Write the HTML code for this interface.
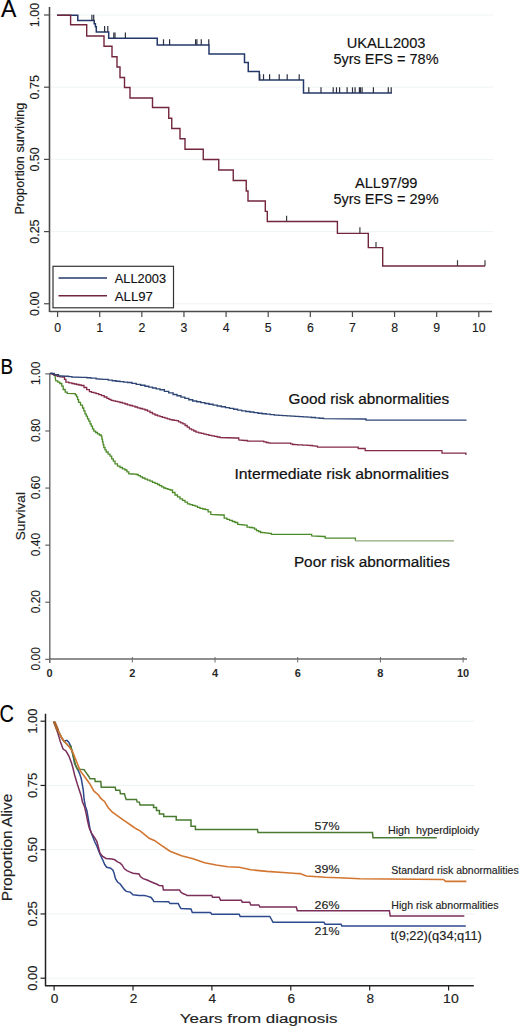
<!DOCTYPE html>
<html><head><meta charset="utf-8"><style>
html,body{margin:0;padding:0;background:#fff;}
body{width:520px;height:1027px;overflow:hidden;}
svg{display:block;font-family:"Liberation Sans", sans-serif;}
</style></head><body>
<svg width="520" height="1027" viewBox="0 0 520 1027">
<rect width="520" height="1027" fill="#fff"/>
<line x1="50.50" y1="15.00" x2="493.00" y2="15.00" stroke="#eef5f3" stroke-width="1"/>
<line x1="50.50" y1="87.20" x2="493.00" y2="87.20" stroke="#eef5f3" stroke-width="1"/>
<line x1="50.50" y1="159.40" x2="493.00" y2="159.40" stroke="#eef5f3" stroke-width="1"/>
<line x1="50.50" y1="231.60" x2="493.00" y2="231.60" stroke="#eef5f3" stroke-width="1"/>
<line x1="50.50" y1="303.75" x2="493.00" y2="303.75" stroke="#eef5f3" stroke-width="1"/>
<line x1="49.50" y1="7.00" x2="49.50" y2="312.00" stroke="#4a4a4a" stroke-width="1.6"/>
<line x1="49.50" y1="311.50" x2="492.00" y2="311.50" stroke="#4a4a4a" stroke-width="1.6"/>
<line x1="44.00" y1="15.00" x2="49.50" y2="15.00" stroke="#4a4a4a" stroke-width="1.2"/>
<line x1="44.00" y1="87.20" x2="49.50" y2="87.20" stroke="#4a4a4a" stroke-width="1.2"/>
<line x1="44.00" y1="159.40" x2="49.50" y2="159.40" stroke="#4a4a4a" stroke-width="1.2"/>
<line x1="44.00" y1="231.60" x2="49.50" y2="231.60" stroke="#4a4a4a" stroke-width="1.2"/>
<line x1="44.00" y1="303.75" x2="49.50" y2="303.75" stroke="#4a4a4a" stroke-width="1.2"/>
<line x1="57.60" y1="311.50" x2="57.60" y2="317.00" stroke="#4a4a4a" stroke-width="1.2"/>
<text x="57.60" y="331.80" font-size="12.3" fill="#1a1a1a" text-anchor="middle" font-weight="normal"  stroke="#1a1a1a" stroke-width="0.15">0</text>
<line x1="99.72" y1="311.50" x2="99.72" y2="317.00" stroke="#4a4a4a" stroke-width="1.2"/>
<text x="99.72" y="331.80" font-size="12.3" fill="#1a1a1a" text-anchor="middle" font-weight="normal"  stroke="#1a1a1a" stroke-width="0.15">1</text>
<line x1="141.84" y1="311.50" x2="141.84" y2="317.00" stroke="#4a4a4a" stroke-width="1.2"/>
<text x="141.84" y="331.80" font-size="12.3" fill="#1a1a1a" text-anchor="middle" font-weight="normal"  stroke="#1a1a1a" stroke-width="0.15">2</text>
<line x1="183.96" y1="311.50" x2="183.96" y2="317.00" stroke="#4a4a4a" stroke-width="1.2"/>
<text x="183.96" y="331.80" font-size="12.3" fill="#1a1a1a" text-anchor="middle" font-weight="normal"  stroke="#1a1a1a" stroke-width="0.15">3</text>
<line x1="226.08" y1="311.50" x2="226.08" y2="317.00" stroke="#4a4a4a" stroke-width="1.2"/>
<text x="226.08" y="331.80" font-size="12.3" fill="#1a1a1a" text-anchor="middle" font-weight="normal"  stroke="#1a1a1a" stroke-width="0.15">4</text>
<line x1="268.20" y1="311.50" x2="268.20" y2="317.00" stroke="#4a4a4a" stroke-width="1.2"/>
<text x="268.20" y="331.80" font-size="12.3" fill="#1a1a1a" text-anchor="middle" font-weight="normal"  stroke="#1a1a1a" stroke-width="0.15">5</text>
<line x1="310.32" y1="311.50" x2="310.32" y2="317.00" stroke="#4a4a4a" stroke-width="1.2"/>
<text x="310.32" y="331.80" font-size="12.3" fill="#1a1a1a" text-anchor="middle" font-weight="normal"  stroke="#1a1a1a" stroke-width="0.15">6</text>
<line x1="352.44" y1="311.50" x2="352.44" y2="317.00" stroke="#4a4a4a" stroke-width="1.2"/>
<text x="352.44" y="331.80" font-size="12.3" fill="#1a1a1a" text-anchor="middle" font-weight="normal"  stroke="#1a1a1a" stroke-width="0.15">7</text>
<line x1="394.56" y1="311.50" x2="394.56" y2="317.00" stroke="#4a4a4a" stroke-width="1.2"/>
<text x="394.56" y="331.80" font-size="12.3" fill="#1a1a1a" text-anchor="middle" font-weight="normal"  stroke="#1a1a1a" stroke-width="0.15">8</text>
<line x1="436.68" y1="311.50" x2="436.68" y2="317.00" stroke="#4a4a4a" stroke-width="1.2"/>
<text x="436.68" y="331.80" font-size="12.3" fill="#1a1a1a" text-anchor="middle" font-weight="normal"  stroke="#1a1a1a" stroke-width="0.15">9</text>
<line x1="478.80" y1="311.50" x2="478.80" y2="317.00" stroke="#4a4a4a" stroke-width="1.2"/>
<text x="478.80" y="331.80" font-size="12.3" fill="#1a1a1a" text-anchor="middle" font-weight="normal"  stroke="#1a1a1a" stroke-width="0.15">10</text>
<text x="38.70" y="15.00" font-size="12.5" fill="#1a1a1a" text-anchor="middle" font-weight="normal" transform="rotate(-90 38.70 15.00)"  stroke="#1a1a1a" stroke-width="0.15">1.00</text>
<text x="38.70" y="87.20" font-size="12.5" fill="#1a1a1a" text-anchor="middle" font-weight="normal" transform="rotate(-90 38.70 87.20)"  stroke="#1a1a1a" stroke-width="0.15">0.75</text>
<text x="38.70" y="159.40" font-size="12.5" fill="#1a1a1a" text-anchor="middle" font-weight="normal" transform="rotate(-90 38.70 159.40)"  stroke="#1a1a1a" stroke-width="0.15">0.50</text>
<text x="38.70" y="231.60" font-size="12.5" fill="#1a1a1a" text-anchor="middle" font-weight="normal" transform="rotate(-90 38.70 231.60)"  stroke="#1a1a1a" stroke-width="0.15">0.25</text>
<text x="38.70" y="303.75" font-size="12.5" fill="#1a1a1a" text-anchor="middle" font-weight="normal" transform="rotate(-90 38.70 303.75)"  stroke="#1a1a1a" stroke-width="0.15">0.00</text>
<text x="24.00" y="158.60" font-size="12.5" fill="#1a1a1a" text-anchor="middle" font-weight="normal" textLength="112.0" lengthAdjust="spacingAndGlyphs" transform="rotate(-90 24.00 158.60)"  stroke="#1a1a1a" stroke-width="0.15">Proportion surviving</text>
<text x="1.00" y="16.80" font-size="23" fill="#000" text-anchor="start" font-weight="normal"  stroke="#000" stroke-width="0.15">A</text>
<path d="M57,15.2 H77.8 V20.6 H94.2 V23.8 H95.4 V26.7 H96.3 V31.9 H108.7 V38.3 H157.25 V45.1 H209 V54 H244.5 V62.5 H248.25 V71.5 H259.3 V80 H303.5 V93.1 H391.9" fill="none" stroke="#25386a" stroke-width="1.5" />
<line x1="91.90" y1="20.60" x2="91.90" y2="14.80" stroke="#2a3040" stroke-width="1.2"/>
<line x1="93.70" y1="20.60" x2="93.70" y2="14.80" stroke="#2a3040" stroke-width="1.2"/>
<line x1="104.60" y1="31.90" x2="104.60" y2="26.10" stroke="#2a3040" stroke-width="1.2"/>
<line x1="107.80" y1="31.90" x2="107.80" y2="26.10" stroke="#2a3040" stroke-width="1.2"/>
<line x1="113.80" y1="38.30" x2="113.80" y2="32.50" stroke="#2a3040" stroke-width="1.2"/>
<line x1="115.00" y1="38.30" x2="115.00" y2="32.50" stroke="#2a3040" stroke-width="1.2"/>
<line x1="125.40" y1="38.30" x2="125.40" y2="32.50" stroke="#2a3040" stroke-width="1.2"/>
<line x1="163.50" y1="45.10" x2="163.50" y2="39.30" stroke="#2a3040" stroke-width="1.2"/>
<line x1="169.60" y1="45.10" x2="169.60" y2="39.30" stroke="#2a3040" stroke-width="1.2"/>
<line x1="195.60" y1="45.10" x2="195.60" y2="39.30" stroke="#2a3040" stroke-width="1.2"/>
<line x1="196.90" y1="45.10" x2="196.90" y2="39.30" stroke="#2a3040" stroke-width="1.2"/>
<line x1="201.25" y1="45.10" x2="201.25" y2="39.30" stroke="#2a3040" stroke-width="1.2"/>
<line x1="208.75" y1="45.10" x2="208.75" y2="39.30" stroke="#2a3040" stroke-width="1.2"/>
<line x1="259.80" y1="80.00" x2="259.80" y2="74.20" stroke="#2a3040" stroke-width="1.2"/>
<line x1="263.50" y1="80.00" x2="263.50" y2="74.20" stroke="#2a3040" stroke-width="1.2"/>
<line x1="269.60" y1="80.00" x2="269.60" y2="74.20" stroke="#2a3040" stroke-width="1.2"/>
<line x1="279.20" y1="80.00" x2="279.20" y2="74.20" stroke="#2a3040" stroke-width="1.2"/>
<line x1="287.20" y1="80.00" x2="287.20" y2="74.20" stroke="#2a3040" stroke-width="1.2"/>
<line x1="299.20" y1="80.00" x2="299.20" y2="74.20" stroke="#2a3040" stroke-width="1.2"/>
<line x1="308.80" y1="93.10" x2="308.80" y2="87.30" stroke="#2a3040" stroke-width="1.2"/>
<line x1="321.00" y1="93.10" x2="321.00" y2="87.30" stroke="#2a3040" stroke-width="1.2"/>
<line x1="333.20" y1="93.10" x2="333.20" y2="87.30" stroke="#2a3040" stroke-width="1.2"/>
<line x1="336.50" y1="93.10" x2="336.50" y2="87.30" stroke="#2a3040" stroke-width="1.2"/>
<line x1="339.60" y1="93.10" x2="339.60" y2="87.30" stroke="#2a3040" stroke-width="1.2"/>
<line x1="347.10" y1="93.10" x2="347.10" y2="87.30" stroke="#2a3040" stroke-width="1.2"/>
<line x1="352.50" y1="93.10" x2="352.50" y2="87.30" stroke="#2a3040" stroke-width="1.2"/>
<line x1="355.10" y1="93.10" x2="355.10" y2="87.30" stroke="#2a3040" stroke-width="1.2"/>
<line x1="359.40" y1="93.10" x2="359.40" y2="87.30" stroke="#2a3040" stroke-width="1.2"/>
<line x1="360.40" y1="93.10" x2="360.40" y2="87.30" stroke="#2a3040" stroke-width="1.2"/>
<line x1="362.10" y1="93.10" x2="362.10" y2="87.30" stroke="#2a3040" stroke-width="1.2"/>
<line x1="373.40" y1="93.10" x2="373.40" y2="87.30" stroke="#2a3040" stroke-width="1.2"/>
<line x1="388.30" y1="93.10" x2="388.30" y2="87.30" stroke="#2a3040" stroke-width="1.2"/>
<line x1="391.20" y1="93.10" x2="391.20" y2="87.30" stroke="#2a3040" stroke-width="1.2"/>
<path d="M57,15.2 H70.6 V24.8 H86.7 V36 H104 V46.25 H112 V56.75 H117 V67 H120 V77.5 H124.5 V87.5 H130 V98 H152.5 V107.5 H168.75 V118.25 H171.75 V128.5 H180 V138.75 H185 V149.25 H203.25 V159.5 H218.75 V170 H233.25 V180.5 H246.25 V191 H248 V201 H265.3 V211.4 H267.3 V221.5 H337.4 V233.4 H368.3 V247.6 H382.7 V266 H485" fill="none" stroke="#72263c" stroke-width="1.4" />
<line x1="286.60" y1="221.50" x2="286.60" y2="215.70" stroke="#3c3c40" stroke-width="1.2"/>
<line x1="359.90" y1="233.10" x2="359.90" y2="227.30" stroke="#3c3c40" stroke-width="1.2"/>
<line x1="376.00" y1="247.80" x2="376.00" y2="242.00" stroke="#3c3c40" stroke-width="1.2"/>
<line x1="457.50" y1="266.00" x2="457.50" y2="260.20" stroke="#3c3c40" stroke-width="1.2"/>
<line x1="485.00" y1="266.00" x2="485.00" y2="260.20" stroke="#3c3c40" stroke-width="1.2"/>
<rect x="53" y="266.3" width="120.5" height="41.5" fill="#fff" stroke="#333" stroke-width="1.2"/>
<line x1="58.50" y1="278.00" x2="107.00" y2="278.00" stroke="#25386a" stroke-width="1.6"/>
<line x1="58.50" y1="295.80" x2="107.00" y2="295.80" stroke="#72263c" stroke-width="1.6"/>
<text x="114.80" y="283.30" font-size="13.2" fill="#111" text-anchor="start" font-weight="normal" textLength="51.2" lengthAdjust="spacingAndGlyphs"  stroke="#111" stroke-width="0.15">ALL2003</text>
<text x="114.80" y="301.20" font-size="13.2" fill="#111" text-anchor="start" font-weight="normal"  stroke="#111" stroke-width="0.15">ALL97</text>
<text x="386.10" y="48.20" font-size="14.4" fill="#111" text-anchor="middle" font-weight="normal" textLength="78.8" lengthAdjust="spacingAndGlyphs"  stroke="#111" stroke-width="0.15">UKALL2003</text>
<text x="386.00" y="64.30" font-size="14.4" fill="#111" text-anchor="middle" font-weight="normal" textLength="105.0" lengthAdjust="spacingAndGlyphs"  stroke="#111" stroke-width="0.15">5yrs EFS = 78%</text>
<text x="386.20" y="187.50" font-size="14.4" fill="#111" text-anchor="middle" font-weight="normal" textLength="62.5" lengthAdjust="spacingAndGlyphs"  stroke="#111" stroke-width="0.15">ALL97/99</text>
<text x="386.00" y="203.60" font-size="14.4" fill="#111" text-anchor="middle" font-weight="normal" textLength="105.0" lengthAdjust="spacingAndGlyphs"  stroke="#111" stroke-width="0.15">5yrs EFS = 29%</text>
<line x1="49.80" y1="373.00" x2="49.80" y2="663.00" stroke="#6a6a6a" stroke-width="1.4"/>
<line x1="49.30" y1="659.00" x2="467.00" y2="659.00" stroke="#6a6a6a" stroke-width="1.4"/>
<line x1="45.30" y1="373.90" x2="49.80" y2="373.90" stroke="#555" stroke-width="1.1"/>
<text x="40.30" y="373.30" font-size="12.0" fill="#1a1a1a" text-anchor="middle" font-weight="normal" transform="rotate(-90 40.30 373.30)"  stroke="#1a1a1a" stroke-width="0.1">1.00</text>
<line x1="45.30" y1="430.98" x2="49.80" y2="430.98" stroke="#555" stroke-width="1.1"/>
<text x="40.30" y="430.38" font-size="12.0" fill="#1a1a1a" text-anchor="middle" font-weight="normal" transform="rotate(-90 40.30 430.38)"  stroke="#1a1a1a" stroke-width="0.1">0.80</text>
<line x1="45.30" y1="488.06" x2="49.80" y2="488.06" stroke="#555" stroke-width="1.1"/>
<text x="40.30" y="487.46" font-size="12.0" fill="#1a1a1a" text-anchor="middle" font-weight="normal" transform="rotate(-90 40.30 487.46)"  stroke="#1a1a1a" stroke-width="0.1">0.60</text>
<line x1="45.30" y1="545.14" x2="49.80" y2="545.14" stroke="#555" stroke-width="1.1"/>
<text x="40.30" y="544.54" font-size="12.0" fill="#1a1a1a" text-anchor="middle" font-weight="normal" transform="rotate(-90 40.30 544.54)"  stroke="#1a1a1a" stroke-width="0.1">0.40</text>
<line x1="45.30" y1="602.22" x2="49.80" y2="602.22" stroke="#555" stroke-width="1.1"/>
<text x="40.30" y="601.62" font-size="12.0" fill="#1a1a1a" text-anchor="middle" font-weight="normal" transform="rotate(-90 40.30 601.62)"  stroke="#1a1a1a" stroke-width="0.1">0.20</text>
<line x1="45.30" y1="659.30" x2="49.80" y2="659.30" stroke="#555" stroke-width="1.1"/>
<text x="40.30" y="658.70" font-size="12.0" fill="#1a1a1a" text-anchor="middle" font-weight="normal" transform="rotate(-90 40.30 658.70)"  stroke="#1a1a1a" stroke-width="0.1">0.00</text>
<line x1="49.60" y1="657.00" x2="49.60" y2="662.50" stroke="#6a6a6a" stroke-width="1"/>
<text x="49.60" y="676.80" font-size="11" fill="#2a2a2a" text-anchor="middle" font-weight="bold" >0</text>
<line x1="132.30" y1="657.00" x2="132.30" y2="662.50" stroke="#6a6a6a" stroke-width="1"/>
<text x="132.30" y="676.80" font-size="11" fill="#2a2a2a" text-anchor="middle" font-weight="bold" >2</text>
<line x1="215.00" y1="657.00" x2="215.00" y2="662.50" stroke="#6a6a6a" stroke-width="1"/>
<text x="215.00" y="676.80" font-size="11" fill="#2a2a2a" text-anchor="middle" font-weight="bold" >4</text>
<line x1="297.70" y1="657.00" x2="297.70" y2="662.50" stroke="#6a6a6a" stroke-width="1"/>
<text x="297.70" y="676.80" font-size="11" fill="#2a2a2a" text-anchor="middle" font-weight="bold" >6</text>
<line x1="380.40" y1="657.00" x2="380.40" y2="662.50" stroke="#6a6a6a" stroke-width="1"/>
<text x="380.40" y="676.80" font-size="11" fill="#2a2a2a" text-anchor="middle" font-weight="bold" >8</text>
<line x1="463.10" y1="657.00" x2="463.10" y2="662.50" stroke="#6a6a6a" stroke-width="1"/>
<text x="463.10" y="676.80" font-size="11" fill="#2a2a2a" text-anchor="middle" font-weight="bold" >10</text>
<text x="24.60" y="516.20" font-size="12.2" fill="#222" text-anchor="middle" font-weight="normal" textLength="48.2" lengthAdjust="spacingAndGlyphs" transform="rotate(-90 24.60 516.20)"  stroke="#222" stroke-width="0.15">Survival</text>
<text x="0.40" y="374.30" font-size="22" fill="#000" text-anchor="start" font-weight="normal" textLength="12.6" lengthAdjust="spacingAndGlyphs"  stroke="#000" stroke-width="0.15">B</text>
<polyline points="50.0,373.4 52.4,373.7 53.7,373.7 53.7,375.4 55.1,375.4 55.1,376.7 55.8,380.8 57.8,380.8 57.8,382.1 59.8,382.1 59.8,383.5 61.8,383.5 61.8,386.2 63.2,386.2 63.2,389.5 65.2,389.5 65.2,392.2 67.2,392.2 67.2,393.3 73.3,393.6 75.3,393.6 75.3,394.9 76.6,394.9 76.6,396.9 77.6,396.9 77.6,399.6 78.6,399.6 78.6,402.3 80.5,402.3 80.5,405.1 82.5,405.1 82.5,408.0 83.8,408.0 83.8,410.9 85.0,410.9 85.0,413.8 86.2,413.8 86.2,416.2 87.5,416.2 87.5,418.8 88.8,418.8 88.8,421.2 90.0,421.2 90.0,423.8 91.2,423.8 91.2,426.2 92.5,426.2 92.5,428.8 93.8,428.8 93.8,431.2 95.6,431.2 95.6,432.5 97.5,432.5 97.5,433.8 99.4,433.8 99.4,435.0 101.2,435.0 101.2,436.2 101.9,436.2 101.9,439.1 102.5,439.1 102.5,441.9 103.1,441.9 103.1,444.7 103.8,444.7 103.8,447.5 105.0,447.5 105.0,449.8 106.2,449.8 106.2,452.0 108.1,452.0 108.1,454.1 110.0,454.1 110.0,456.2 111.7,456.2 111.7,458.8 113.3,458.8 113.3,461.2 115.0,461.2 115.0,463.8 117.5,463.8 117.5,466.2 120.0,466.2 120.0,467.5 122.5,467.5 122.5,468.8 125.0,468.8 125.0,470.0 126.9,470.0 126.9,471.9 128.8,471.9 128.8,473.8 131.2,473.8 131.2,474.0 133.8,474.0 133.8,474.2 136.2,474.2 136.2,474.5 138.3,474.5 138.3,475.7 140.4,475.7 140.4,476.8 142.5,476.8 142.5,478.0 145.0,478.0 145.0,479.1 147.5,479.1 147.5,480.2 150.0,480.2 150.0,481.2 152.5,481.2 152.5,482.3 155.0,482.3 155.0,483.4 157.5,483.4 157.5,484.5 159.6,484.5 159.6,485.7 161.7,485.7 161.7,486.8 163.8,486.8 163.8,488.0 165.8,488.0 165.8,488.7 167.9,488.7 167.9,489.3 170.0,489.3 170.0,490.0 172.5,490.0 172.5,492.5 175.0,492.5 175.0,495.0 177.5,495.0 177.5,496.9 180.0,496.9 180.0,498.8 182.5,498.8 182.5,500.4 185.0,500.4 185.0,502.1 187.5,502.1 187.5,503.8 190.0,503.8 190.0,504.6 192.5,504.6 192.5,505.4 195.0,505.4 195.0,506.2 197.5,506.2 197.5,507.3 200.0,507.3 200.0,508.3 202.7,508.3 202.7,509.0 205.4,509.0 205.4,509.6 208.1,509.6 208.1,511.8 210.8,511.8 210.8,514.5 221.5,515.0 224.2,515.0 224.2,518.2 226.9,518.2 226.9,519.3 229.6,519.3 229.6,520.4 232.3,520.4 232.3,521.5 235.0,521.5 235.0,522.5 237.7,522.5 237.7,524.4 239.9,524.4 239.9,524.7 242.2,524.7 242.2,524.9 244.4,524.9 244.4,525.2 247.1,525.2 247.1,527.1 249.8,527.1 249.8,527.5 252.5,527.5 252.5,527.9 254.5,527.9 254.5,529.2 256.5,529.2 256.5,530.6 258.6,530.6 258.6,531.5 260.6,531.5 260.6,532.5 262.6,532.5 262.6,532.7 264.6,532.7 264.6,532.9 266.7,532.9 266.7,533.1 268.7,533.1 268.7,533.3 271.4,533.3 271.4,534.4 310.4,534.4 311.7,534.4 311.7,536.0 323.9,536.5 325.2,536.5 325.2,538.2 353.7,538.2 355.4,538.2 355.4,540.8" fill="none" stroke="#4c8a28" stroke-width="1.3" stroke-linejoin="miter" />
<line x1="355.40" y1="540.80" x2="454.00" y2="540.80" stroke="#8fa87a" stroke-width="1.3"/>
<polyline points="50.0,373.5 52.4,373.5 52.4,374.4 54.7,374.4 54.7,375.4 57.1,375.4 57.1,376.3 59.8,376.3 59.8,376.8 62.5,376.8 62.5,377.2 64.5,377.2 64.5,379.4 65.9,379.4 65.9,382.1 68.9,382.1 68.9,382.8 71.9,382.8 71.9,383.5 74.2,383.5 74.2,384.0 76.6,384.0 76.6,384.5 79.0,384.5 79.0,385.0 81.3,385.0 81.3,385.5 84.0,385.5 84.0,387.5 86.7,387.5 86.7,389.6 89.4,389.6 89.4,391.6 91.6,391.6 91.6,392.3 93.9,392.3 93.9,392.9 96.1,392.9 96.1,393.6 98.8,393.6 98.8,394.6 101.5,394.6 101.5,395.6 104.2,395.6 104.2,397.0 106.9,397.0 106.9,398.3 109.0,398.3 109.0,399.3 111.0,399.3 111.0,400.3 113.2,400.3 113.2,400.9 115.5,400.9 115.5,401.4 117.8,401.4 117.8,401.9 120.0,401.9 120.0,402.5 122.5,402.5 122.5,403.2 125.0,403.2 125.0,404.0 127.5,404.0 127.5,404.8 130.0,404.8 130.0,405.5 132.5,405.5 132.5,406.2 135.0,406.2 135.0,407.0 137.5,407.0 137.5,407.8 140.0,407.8 140.0,408.5 142.5,408.5 142.5,409.2 145.0,409.2 145.0,410.0 147.5,410.0 147.5,411.2 150.0,411.2 150.0,412.5 152.5,412.5 152.5,413.8 155.0,413.8 155.0,415.0 157.5,415.0 157.5,415.9 160.0,415.9 160.0,416.7 162.4,416.7 162.4,417.4 164.9,417.4 164.9,418.2 167.4,418.2 167.4,418.9 169.8,418.9 169.8,419.7 172.0,419.7 172.0,420.0 174.1,420.0 174.1,420.4 176.3,420.4 176.3,420.7 178.5,420.7 178.5,421.8 180.7,421.8 180.7,422.8 182.9,422.8 182.9,423.9 185.1,423.9 185.1,425.5 187.2,425.5 187.2,427.2 189.4,427.2 189.4,428.8 191.6,428.8 191.6,429.9 193.8,429.9 193.8,431.0 196.0,431.0 196.0,432.1 198.6,432.1 198.6,432.8 201.2,432.8 201.2,433.4 203.8,433.4 203.8,434.1 206.4,434.1 206.4,434.7 209.0,434.7 209.0,435.4 211.8,435.4 211.8,435.9 214.5,435.9 214.5,436.4 217.2,436.4 217.2,437.0 220.0,437.0 220.0,437.5 236.2,438.0 238.8,438.0 238.8,440.0 245.0,440.5 247.5,440.5 247.5,441.2 261.2,441.2 263.8,441.2 263.8,441.9 266.2,441.9 266.2,442.5 268.1,442.5 268.1,442.9 270.0,442.9 270.0,443.2 288.8,443.2 290.6,443.2 290.6,443.9 292.5,443.9 292.5,444.5 295.0,444.5 295.0,444.6 297.5,444.6 297.5,444.8 300.0,444.8 300.0,444.9 302.5,444.9 302.5,445.1 305.0,445.1 305.0,445.2 307.5,445.2 307.5,445.4 310.0,445.4 310.0,445.5 312.5,445.5 312.5,445.9 315.0,445.9 315.0,446.2 317.5,446.2 317.5,447.2 356.9,447.2 358.2,447.2 358.2,448.5 363.9,448.5 365.2,448.5 365.2,450.6 441.2,450.6 442.0,450.6 442.0,453.2 463.3,453.2 465.9,453.2 465.9,455.0" fill="none" stroke="#842a4a" stroke-width="1.3" stroke-linejoin="miter" />
<polyline points="50.0,373.5 54.2,373.5 54.2,374.6 58.5,374.6 58.5,375.8 65.2,376.3 68.6,376.3 68.6,376.6 71.9,376.6 71.9,377.0 82.7,377.4 86.8,377.4 86.8,377.8 90.8,377.8 90.8,378.1 96.1,378.1 96.1,378.8 104.2,379.4 108.2,379.4 108.2,380.1 112.3,380.1 112.3,380.8 116.1,380.8 116.1,381.2 119.9,381.2 119.9,381.6 123.7,381.6 123.7,382.1 127.5,382.1 127.5,382.5 131.9,382.5 131.9,383.4 136.2,383.4 136.2,384.4 140.6,384.4 140.6,385.3 145.0,385.3 145.0,386.2 148.8,386.2 148.8,387.1 152.5,387.1 152.5,388.0 156.2,388.0 156.2,388.9 160.0,388.9 160.0,389.8 164.4,389.8 164.4,391.4 168.7,391.4 168.7,392.9 173.1,392.9 173.1,394.5 177.0,394.5 177.0,395.8 180.9,395.8 180.9,397.1 184.9,397.1 184.9,398.4 188.8,398.4 188.8,399.7 192.7,399.7 192.7,401.0 196.8,401.0 196.8,401.8 200.8,401.8 200.8,402.6 204.9,402.6 204.9,403.5 209.0,403.5 209.0,404.3 213.1,404.3 213.1,405.1 217.2,405.1 217.2,406.0 221.3,406.0 221.3,406.8 225.4,406.8 225.4,407.6 229.5,407.6 229.5,408.4 233.6,408.4 233.6,409.2 237.6,409.2 237.6,410.1 241.7,410.1 241.7,410.9 245.8,410.9 245.8,411.5 249.8,411.5 249.8,412.0 253.9,412.0 253.9,412.6 258.0,412.6 258.0,413.2 262.1,413.2 262.1,413.7 266.2,413.7 266.2,414.1 270.3,414.1 270.3,414.6 274.4,414.6 274.4,415.1 278.5,415.1 278.5,415.4 282.6,415.4 282.6,415.6 286.7,415.6 286.7,415.9 290.8,415.9 290.8,416.1 294.9,416.1 294.9,416.4 299.0,416.4 299.0,416.6 303.0,416.6 303.0,416.9 307.1,416.9 307.1,417.1 311.2,417.1 311.2,417.5 315.3,417.5 315.3,417.9 319.4,417.9 319.4,418.2 323.5,418.2 323.5,418.6 364.6,419.0 366.0,419.0 366.0,420.1 466.5,420.1" fill="none" stroke="#2e4676" stroke-width="1.4" stroke-linejoin="miter" />
<text x="288.50" y="403.60" font-size="15.4" fill="#111" text-anchor="start" font-weight="normal" textLength="160.7" lengthAdjust="spacingAndGlyphs" stroke="#111" stroke-width="0.22">Good risk abnormalities</text>
<text x="234.40" y="479.40" font-size="15.4" fill="#111" text-anchor="start" font-weight="normal" textLength="214.6" lengthAdjust="spacingAndGlyphs" stroke="#111" stroke-width="0.22">Intermediate risk abnormalities</text>
<text x="293.90" y="567.20" font-size="15.4" fill="#111" text-anchor="start" font-weight="normal" textLength="156.0" lengthAdjust="spacingAndGlyphs" stroke="#111" stroke-width="0.22">Poor risk abnormalities</text>
<line x1="47.00" y1="721.20" x2="475.00" y2="721.20" stroke="#eef3f3" stroke-width="1"/>
<line x1="47.00" y1="785.45" x2="475.00" y2="785.45" stroke="#eef3f3" stroke-width="1"/>
<line x1="47.00" y1="849.70" x2="475.00" y2="849.70" stroke="#eef3f3" stroke-width="1"/>
<line x1="47.00" y1="913.95" x2="475.00" y2="913.95" stroke="#eef3f3" stroke-width="1"/>
<line x1="47.00" y1="978.20" x2="475.00" y2="978.20" stroke="#eef3f3" stroke-width="1"/>
<line x1="45.50" y1="713.70" x2="45.50" y2="986.00" stroke="#222" stroke-width="1.5"/>
<line x1="45.00" y1="985.80" x2="473.80" y2="985.80" stroke="#222" stroke-width="1.5"/>
<line x1="40.50" y1="721.20" x2="45.50" y2="721.20" stroke="#222" stroke-width="1.2"/>
<text x="36.80" y="721.20" font-size="13" fill="#222" text-anchor="middle" font-weight="normal" transform="rotate(-90 36.80 721.20)"  stroke="#222" stroke-width="0.15">1.00</text>
<line x1="40.50" y1="785.45" x2="45.50" y2="785.45" stroke="#222" stroke-width="1.2"/>
<text x="36.80" y="785.45" font-size="13" fill="#222" text-anchor="middle" font-weight="normal" transform="rotate(-90 36.80 785.45)"  stroke="#222" stroke-width="0.15">0.75</text>
<line x1="40.50" y1="849.70" x2="45.50" y2="849.70" stroke="#222" stroke-width="1.2"/>
<text x="36.80" y="849.70" font-size="13" fill="#222" text-anchor="middle" font-weight="normal" transform="rotate(-90 36.80 849.70)"  stroke="#222" stroke-width="0.15">0.50</text>
<line x1="40.50" y1="913.95" x2="45.50" y2="913.95" stroke="#222" stroke-width="1.2"/>
<text x="36.80" y="913.95" font-size="13" fill="#222" text-anchor="middle" font-weight="normal" transform="rotate(-90 36.80 913.95)"  stroke="#222" stroke-width="0.15">0.25</text>
<line x1="40.50" y1="978.20" x2="45.50" y2="978.20" stroke="#222" stroke-width="1.2"/>
<text x="36.80" y="978.20" font-size="13" fill="#222" text-anchor="middle" font-weight="normal" transform="rotate(-90 36.80 978.20)"  stroke="#222" stroke-width="0.15">0.00</text>
<line x1="54.10" y1="985.80" x2="54.10" y2="990.50" stroke="#222" stroke-width="1.2"/>
<text x="54.60" y="1003.40" font-size="11.9" fill="#222" text-anchor="middle" font-weight="normal" textLength="7.6" lengthAdjust="spacingAndGlyphs"  stroke="#222" stroke-width="0.15">0</text>
<line x1="133.00" y1="985.80" x2="133.00" y2="990.50" stroke="#222" stroke-width="1.2"/>
<text x="133.50" y="1003.40" font-size="11.9" fill="#222" text-anchor="middle" font-weight="normal" textLength="7.6" lengthAdjust="spacingAndGlyphs"  stroke="#222" stroke-width="0.15">2</text>
<line x1="211.90" y1="985.80" x2="211.90" y2="990.50" stroke="#222" stroke-width="1.2"/>
<text x="212.40" y="1003.40" font-size="11.9" fill="#222" text-anchor="middle" font-weight="normal" textLength="7.6" lengthAdjust="spacingAndGlyphs"  stroke="#222" stroke-width="0.15">4</text>
<line x1="290.80" y1="985.80" x2="290.80" y2="990.50" stroke="#222" stroke-width="1.2"/>
<text x="291.30" y="1003.40" font-size="11.9" fill="#222" text-anchor="middle" font-weight="normal" textLength="7.6" lengthAdjust="spacingAndGlyphs"  stroke="#222" stroke-width="0.15">6</text>
<line x1="369.70" y1="985.80" x2="369.70" y2="990.50" stroke="#222" stroke-width="1.2"/>
<text x="370.20" y="1003.40" font-size="11.9" fill="#222" text-anchor="middle" font-weight="normal" textLength="7.6" lengthAdjust="spacingAndGlyphs"  stroke="#222" stroke-width="0.15">8</text>
<line x1="448.60" y1="985.80" x2="448.60" y2="990.50" stroke="#222" stroke-width="1.2"/>
<text x="450.90" y="1003.40" font-size="11.9" fill="#222" text-anchor="middle" font-weight="normal" textLength="15.6" lengthAdjust="spacingAndGlyphs"  stroke="#222" stroke-width="0.15">10</text>
<text x="12.00" y="847.50" font-size="14.3" fill="#222" text-anchor="middle" font-weight="normal" textLength="107.5" lengthAdjust="spacingAndGlyphs" transform="rotate(-90 12.00 847.50)"  stroke="#222" stroke-width="0.15">Proportion Alive</text>
<text x="179.80" y="1023.40" font-size="13.7" fill="#222" text-anchor="start" font-weight="normal" textLength="157.6" lengthAdjust="spacingAndGlyphs"  stroke="#222" stroke-width="0.15">Years from diagnosis</text>
<text x="-0.40" y="722.20" font-size="24.5" fill="#000" text-anchor="start" font-weight="normal" textLength="14.4" lengthAdjust="spacingAndGlyphs"  stroke="#000" stroke-width="0.15">C</text>
<polyline points="54.0,721.5 58.3,731.0 62.1,738.5 64.0,741.3 66.9,740.4 68.8,742.3 70.8,746.2 72.7,753.8 74.6,763.5 77.5,769.2 79.4,773.1 81.3,778.8 83.3,790.4 84.2,800.0 85.4,806.2 86.9,810.8 88.5,820.0 90.0,829.2 92.3,835.4 94.6,841.5 96.9,846.2 99.2,852.3 100.7,855.8 102.7,859.8 104.7,864.5 106.7,867.2 110.1,867.9 112.8,869.9 114.1,873.3 115.5,878.6 117.5,882.0 120.2,884.0 122.2,886.7 124.2,889.4 126.2,891.4 130.3,892.1 133.0,894.8 139.0,895.5 144.4,895.5 147.1,896.1 151.1,897.5 153.2,900.2 153.8,901.5 168.7,901.8 170.1,903.6 178.2,903.6 179.5,906.2 180.9,908.5 191.0,908.9 192.3,912.4 210.5,912.6 211.8,914.2 239.1,914.2 240.2,916.4 269.8,916.4 271.5,919.5 273.0,922.3 324.0,922.3 325.1,924.2 341.1,924.2 341.8,926.1 465.8,926.1" fill="none" stroke="#2e4a8e" stroke-width="1.5" stroke-linejoin="miter" />
<polyline points="54.0,721.5 58.3,734.6 60.2,741.3 63.1,749.0 66.0,751.0 68.8,755.8 71.7,763.5 73.2,769.0 74.6,775.0 76.1,780.0 77.5,784.6 79.4,790.4 81.3,796.2 82.3,801.5 84.6,806.9 86.2,813.8 87.7,821.5 89.2,827.7 91.5,833.1 94.6,837.7 96.9,841.5 98.5,847.7 100.0,853.1 102.7,856.4 106.1,858.5 112.1,859.1 114.8,859.8 117.5,861.8 120.2,863.2 122.2,865.2 124.2,868.6 126.9,870.6 129.6,871.9 133.0,873.3 139.0,873.9 140.4,876.6 143.1,878.6 147.1,880.0 149.8,881.3 153.2,882.7 156.5,884.0 159.2,885.4 162.7,885.7 163.4,890.1 179.5,890.1 180.9,892.1 182.9,893.5 186.2,894.8 186.9,895.5 211.8,895.5 212.5,897.2 219.2,897.2 220.6,900.2 241.3,900.2 242.3,902.2 249.7,902.2 250.8,905.0 258.8,905.0 259.9,907.1 296.3,907.1 297.3,910.7 389.4,910.7 390.2,916.0 464.3,916.0" fill="none" stroke="#7a2e5a" stroke-width="1.5" stroke-linejoin="miter" />
<polyline points="54.0,721.5 58.3,731.0 62.1,738.5 65.0,742.3 68.8,746.2 70.8,746.2 73.7,757.7 75.6,765.4 77.5,769.2 84.2,769.6 85.2,771.4 86.5,773.1 87.6,774.8 88.8,776.5 90.0,778.7 94.8,778.7 95.2,781.5 100.8,781.5 101.3,787.3 115.2,787.3 115.8,790.2 119.8,790.2 120.4,793.7 124.4,793.7 125.2,796.5 126.2,799.4 136.5,799.4 137.1,801.9 139.4,802.2 140.0,805.1 153.6,805.1 153.6,807.5 156.5,807.5 156.5,810.6 159.4,810.6 159.4,814.0 163.7,814.0 163.7,816.6 176.2,816.6 176.2,820.0 191.0,820.0 191.0,826.3 195.4,826.3 195.4,829.4 257.5,829.4 258.0,832.6 372.5,832.6 373.0,837.7 436.7,837.7" fill="none" stroke="#4a7a30" stroke-width="1.5" stroke-linejoin="miter" />
<polyline points="54.0,721.5 58.3,731.0 62.1,738.5 65.0,742.3 68.8,746.2 72.7,751.9 76.5,761.5 80.4,771.2 84.2,776.0 87.0,780.0 90.0,784.1 93.8,790.9 98.7,795.2 100.6,798.1 104.4,801.4 108.3,807.7 112.1,812.0 116.9,815.4 121.7,818.8 126.5,822.1 131.3,825.5 136.2,828.8 140.0,830.8 143.8,833.8 149.2,838.3 154.8,840.7 159.6,844.2 170.0,851.2 181.5,855.8 193.1,858.8 204.6,862.7 216.2,865.0 227.7,866.8 239.2,867.3 250.8,869.8 266.9,871.4 283.1,872.5 296.5,873.5 300.0,873.6 306.3,876.0 325.3,877.3 344.3,878.0 360.0,878.8 443.5,879.5 445.6,881.4 466.4,881.4" fill="none" stroke="#d27530" stroke-width="1.6" stroke-linejoin="miter" />
<line x1="54.20" y1="721.80" x2="58.00" y2="731.00" stroke="#a8642e" stroke-width="3"/>
<text x="314.60" y="830.40" font-size="11" fill="#222" text-anchor="start" font-weight="normal" textLength="24.9" lengthAdjust="spacingAndGlyphs"  stroke="#222" stroke-width="0.15">57%</text>
<text x="314.60" y="872.60" font-size="11" fill="#222" text-anchor="start" font-weight="normal" textLength="24.9" lengthAdjust="spacingAndGlyphs"  stroke="#222" stroke-width="0.15">39%</text>
<text x="314.60" y="908.90" font-size="11" fill="#222" text-anchor="start" font-weight="normal" textLength="24.9" lengthAdjust="spacingAndGlyphs"  stroke="#222" stroke-width="0.15">26%</text>
<text x="314.60" y="935.30" font-size="11" fill="#222" text-anchor="start" font-weight="normal" textLength="24.9" lengthAdjust="spacingAndGlyphs"  stroke="#222" stroke-width="0.15">21%</text>
<text x="387.90" y="834.40" font-size="10.6" fill="#222" text-anchor="start" font-weight="normal" textLength="91.3" lengthAdjust="spacingAndGlyphs"  stroke="#222" stroke-width="0.15">High&#160;&#160;hyperdiploidy</text>
<text x="391.30" y="873.70" font-size="10.6" fill="#222" text-anchor="start" font-weight="normal" textLength="127.4" lengthAdjust="spacingAndGlyphs"  stroke="#222" stroke-width="0.15">Standard risk abnormalities</text>
<text x="391.30" y="909.30" font-size="10.6" fill="#222" text-anchor="start" font-weight="normal" textLength="107.2" lengthAdjust="spacingAndGlyphs"  stroke="#222" stroke-width="0.15">High risk abnormalities</text>
<text x="390.80" y="940.20" font-size="12.4" fill="#222" text-anchor="start" font-weight="normal" textLength="91.0" lengthAdjust="spacingAndGlyphs"  stroke="#222" stroke-width="0.15">t(9;22)(q34;q11)</text>
</svg>
</body></html>
